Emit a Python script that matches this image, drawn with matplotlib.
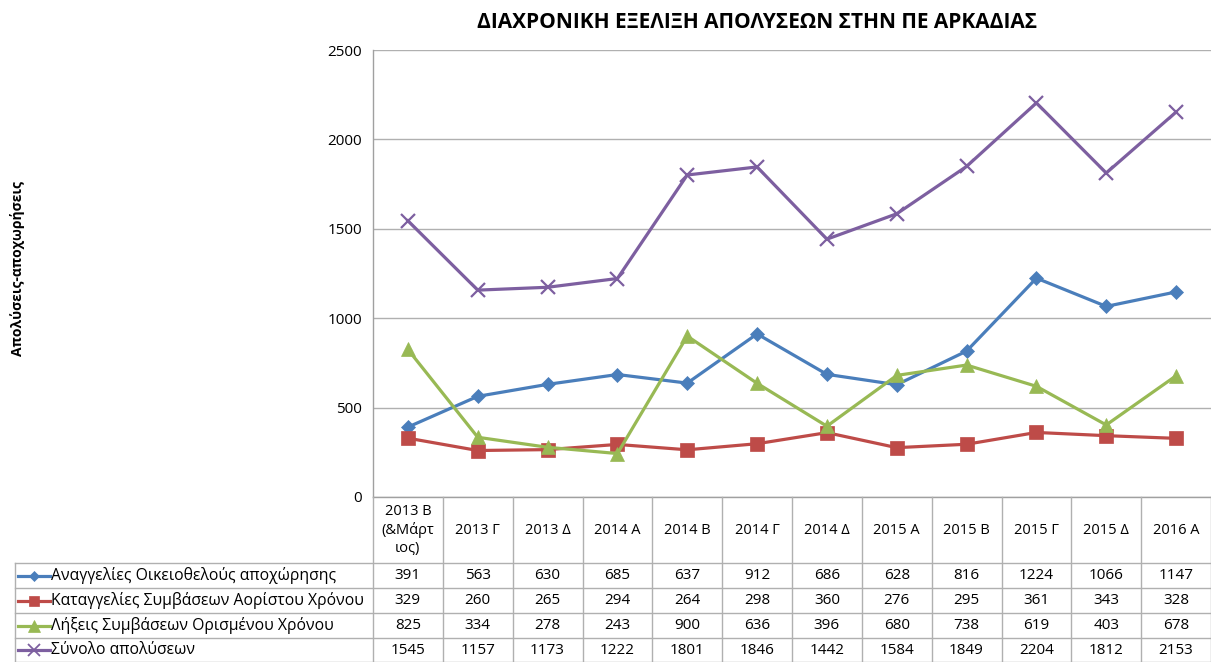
import numpy as np
import matplotlib.pyplot as plt
from matplotlib.lines import Line2D
from matplotlib.transforms import blended_transform_factory

plt.rcParams['font.family'] = ['Open Sans', 'DejaVu Sans']

# data
categories = ["2013 Β\n(&Μάρτ\nιος)", "2013 Γ", "2013 Δ", "2014 Α", "2014 Β", "2014 Γ",
              "2014 Δ", "2015 Α", "2015 Β", "2015 Γ", "2015 Δ", "2016 Α"]
series_names = ["Αναγγελίες Οικειοθελούς αποχώρησης",
                "Καταγγελίες Συμβάσεων Αορίστου Χρόνου",
                "Λήξεις Συμβάσεων Ορισμένου Χρόνου",
                "Σύνολο απολύσεων"]
voluntary = [391, 563, 630, 685, 637, 912, 686, 628, 816, 1224, 1066, 1147]
indefinite = [329, 260, 265, 294, 264, 298, 360, 276, 295, 361, 343, 328]
fixed_term = [825, 334, 278, 243, 900, 636, 396, 680, 738, 619, 403, 678]
total = [1545, 1157, 1173, 1222, 1801, 1846, 1442, 1584, 1849, 2204, 1812, 2153]

series = [voluntary, indefinite, fixed_term, total]
colors = ['#4A7EBB', '#BE4B48', '#98B954', '#7D5FA0']
markers = ['D', 's', '^', 'x']
msizes = [7, 9.5, 10, 10]

W, H = 1211, 662
fig = plt.figure(figsize=(W / 100, H / 100), dpi=100)

def fx(px):
    return px / W

def fy(py):
    return (H - py) / H

ax_left, ax_top, ax_bottom = 373, 50, 497
ax = fig.add_axes([fx(ax_left), fy(ax_bottom), 1 - fx(ax_left), (ax_bottom - ax_top) / H])

x = np.arange(len(categories))
for vals, c, m, ms in zip(series, colors, markers, msizes):
    ax.plot(x, vals, color=c, lw=2.3, marker=m, markersize=ms,
            markeredgewidth=1.6 if m == 'x' else 0.5, markeredgecolor=c)

ax.set_xlim(-0.5, len(categories) - 0.5)
ax.set_ylim(0, 2500)
ax.set_yticks(np.arange(0, 2501, 500))
ax.tick_params(axis='y', length=0, labelsize=11, pad=8)
ax.set_xticks([])
ax.grid(axis='y', color='#b0b0b0', lw=1)
ax.set_axisbelow(True)
for s in ['top', 'right']:
    ax.spines[s].set_visible(False)
for s in ['left', 'bottom']:
    ax.spines[s].set_color('#a0a0a0')
    ax.spines[s].set_linewidth(1)

# title and y label
fig.text(fx(757), fy(22), "ΔΙΑΧΡΟΝΙΚΗ ΕΞΕΛΙΞΗ ΑΠΟΛΥΣΕΩΝ ΣΤΗΝ ΠΕ ΑΡΚΑΔΙΑΣ",
         ha='center', va='center', fontsize=15, fontweight='bold')
fig.text(fx(18), fy(268), "Απολύσεις-αποχωρήσεις", rotation=90,
         ha='center', va='center', fontsize=10, fontweight='bold')

# data table below the axes
trans = blended_transform_factory(ax.transData, fig.transFigure)
grid_c = '#b0b0b0'
header_bottom = 563
row_lines = [563, 588, 613, 638, 662]

for k in range(len(categories) + 1):
    fig.add_artist(Line2D([k - 0.5, k - 0.5], [fy(ax_bottom), fy(H)], transform=trans,
                          color=grid_c, lw=1, clip_on=False))
for ry in row_lines:
    fig.add_artist(Line2D([fx(15), 1], [fy(ry), fy(ry)], transform=fig.transFigure,
                          color=grid_c, lw=1))
fig.add_artist(Line2D([fx(15), fx(15)], [fy(header_bottom), fy(H)],
                      transform=fig.transFigure, color=grid_c, lw=1))

for i, cat in enumerate(categories):
    fig.text(i, fy((ax_bottom + header_bottom) / 2), cat, transform=trans,
             ha='center', va='center', fontsize=10.5, linespacing=1.3)

for r, (name, vals, c, m, ms) in enumerate(zip(series_names, series, colors, markers, msizes)):
    yc = fy((row_lines[r] + row_lines[r + 1]) / 2)
    fig.add_artist(Line2D([fx(18), fx(50)], [yc, yc], transform=fig.transFigure,
                          color=c, lw=2.3))
    fig.add_artist(Line2D([fx(34)], [yc], transform=fig.transFigure, color=c,
                          marker=m, markersize=ms * 0.8, markeredgecolor=c,
                          markeredgewidth=1.3 if m == 'x' else 0.5, lw=0))
    fig.text(fx(51), yc, name, ha='left', va='center', fontsize=11.3)
    for i, v in enumerate(vals):
        fig.text(i, yc, str(v), transform=trans, ha='center', va='center', fontsize=11)

fig.savefig('out.png', dpi=100)
